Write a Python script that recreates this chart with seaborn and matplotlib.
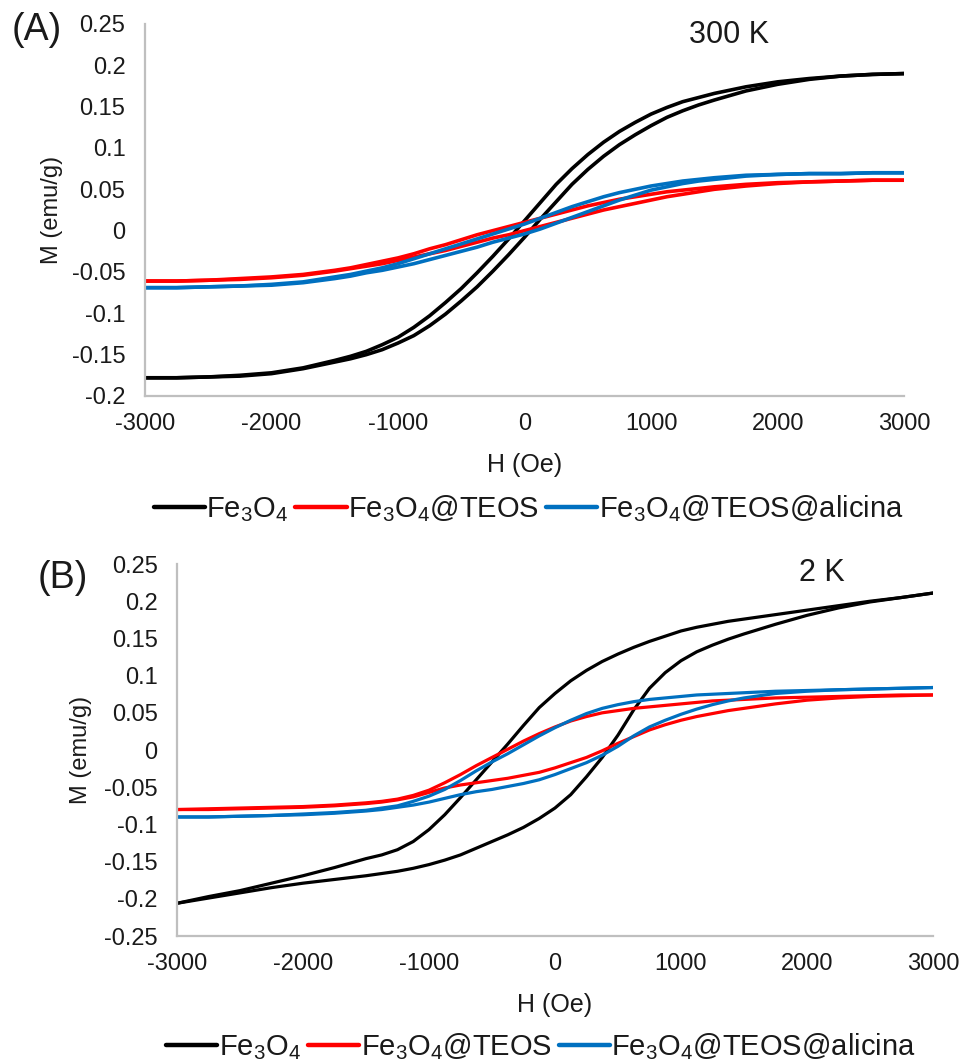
import numpy as np
import pandas as pd
import matplotlib
matplotlib.use("Agg")
import matplotlib.pyplot as plt
from matplotlib.lines import Line2D
import seaborn as sns

# ---------------- data ----------------
H_field = [-3000, -2750, -2500, -2250, -2000, -1750, -1500,
           -1375, -1250, -1125, -1000, -875, -750, -625, -500, -375, -250, -125, 0,
           125, 250, 375, 500, 625, 750, 875, 1000, 1125, 1250, 1375, 1500,
           1750, 2000, 2250, 2500, 2750, 3000]

sample_names = ["Fe$_3$O$_4$", "Fe$_3$O$_4$@TEOS", "Fe$_3$O$_4$@TEOS@alicina"]
sample_colors = ["#000000", "#FF0000", "#0070C0"]

# 300 K  (desc = branch coming from +H, asc = branch coming from -H), values at H_field
fe_300_desc = [-0.178, -0.178, -0.177, -0.175, -0.172, -0.166, -0.157,
               -0.152, -0.146, -0.138, -0.129, -0.117, -0.103, -0.087, -0.070, -0.051, -0.031, -0.010, 0.012,
               0.034, 0.056, 0.075, 0.092, 0.107, 0.120, 0.131, 0.141, 0.149, 0.156, 0.161, 0.166,
               0.174, 0.180, 0.184, 0.187, 0.189, 0.190]
fe_300_asc = [-0.178, -0.178, -0.177, -0.176, -0.173, -0.167, -0.159,
              -0.155, -0.150, -0.144, -0.136, -0.127, -0.115, -0.101, -0.085, -0.068, -0.049, -0.029, -0.008,
              0.014, 0.035, 0.056, 0.074, 0.090, 0.104, 0.116, 0.127, 0.137, 0.145, 0.152, 0.158,
              0.169, 0.177, 0.183, 0.187, 0.189, 0.190]
teos_300_desc = [-0.061, -0.061, -0.060, -0.058, -0.056, -0.053, -0.048,
                 -0.045, -0.041, -0.037, -0.033, -0.028, -0.022, -0.017, -0.011, -0.005, 0.000, 0.005, 0.010,
                 0.015, 0.020, 0.025, 0.030, 0.034, 0.038, 0.041, 0.044, 0.047, 0.049, 0.051, 0.053,
                 0.056, 0.058, 0.059, 0.060, 0.061, 0.061]
teos_300_asc = [-0.061, -0.061, -0.060, -0.059, -0.057, -0.054, -0.049,
                -0.046, -0.043, -0.040, -0.036, -0.032, -0.028, -0.024, -0.019, -0.014, -0.009, -0.005, 0.000,
                0.005, 0.010, 0.015, 0.020, 0.025, 0.029, 0.033, 0.037, 0.041, 0.044, 0.047, 0.050,
                0.054, 0.057, 0.059, 0.060, 0.061, 0.061]
alic_300_desc = [-0.069, -0.069, -0.068, -0.067, -0.065, -0.062, -0.056,
                 -0.053, -0.049, -0.045, -0.040, -0.034, -0.028, -0.022, -0.016, -0.010, -0.004, 0.002, 0.008,
                 0.015, 0.022, 0.029, 0.035, 0.041, 0.046, 0.050, 0.054, 0.057, 0.060, 0.062, 0.064,
                 0.067, 0.068, 0.069, 0.069, 0.070, 0.070]
alic_300_asc = [-0.069, -0.069, -0.068, -0.067, -0.066, -0.063, -0.058,
                -0.055, -0.051, -0.048, -0.044, -0.040, -0.035, -0.030, -0.025, -0.020, -0.014, -0.009, -0.004,
                0.002, 0.009, 0.016, 0.023, 0.030, 0.037, 0.043, 0.049, 0.053, 0.057, 0.060, 0.062,
                0.066, 0.068, 0.069, 0.069, 0.070, 0.070]

# 2 K
fe_2_desc = [-0.206, -0.197, -0.189, -0.179, -0.169, -0.158, -0.146,
             -0.141, -0.134, -0.123, -0.107, -0.087, -0.064, -0.040, -0.016, 0.008, 0.033, 0.057, 0.076,
             0.093, 0.107, 0.119, 0.129, 0.138, 0.146, 0.153, 0.160, 0.165, 0.169, 0.173, 0.176,
             0.182, 0.188, 0.194, 0.200, 0.205, 0.211]
fe_2_asc = [-0.206, -0.199, -0.192, -0.185, -0.179, -0.174, -0.169,
            -0.166, -0.163, -0.159, -0.154, -0.148, -0.141, -0.132, -0.123, -0.114, -0.104, -0.092, -0.078,
            -0.060, -0.036, -0.010, 0.020, 0.054, 0.083, 0.104, 0.120, 0.132, 0.141, 0.149, 0.156,
            0.169, 0.181, 0.191, 0.199, 0.205, 0.211]
teos_2_desc = [-0.080, -0.079, -0.078, -0.077, -0.076, -0.074, -0.071,
               -0.069, -0.066, -0.061, -0.054, -0.044, -0.033, -0.021, -0.010, 0.001, 0.012, 0.022, 0.031,
               0.039, 0.045, 0.050, 0.053, 0.056, 0.058, 0.060, 0.062, 0.064, 0.066, 0.067, 0.068,
               0.070, 0.071, 0.072, 0.073, 0.074, 0.074]
teos_2_asc = [-0.080, -0.080, -0.079, -0.078, -0.077, -0.075, -0.072,
              -0.070, -0.067, -0.063, -0.057, -0.051, -0.047, -0.044, -0.041, -0.038, -0.034, -0.030, -0.024,
              -0.017, -0.010, -0.001, 0.009, 0.018, 0.027, 0.034, 0.040, 0.045, 0.049, 0.053, 0.056,
              0.062, 0.067, 0.070, 0.072, 0.073, 0.074]
alic_2_desc = [-0.090, -0.090, -0.089, -0.088, -0.086, -0.084, -0.081,
               -0.078, -0.075, -0.069, -0.062, -0.053, -0.041, -0.028, -0.016, -0.005, 0.007, 0.019, 0.030,
               0.040, 0.049, 0.056, 0.061, 0.065, 0.068, 0.070, 0.072, 0.074, 0.075, 0.076, 0.077,
               0.079, 0.080, 0.081, 0.082, 0.083, 0.084]
alic_2_asc = [-0.090, -0.090, -0.089, -0.088, -0.087, -0.085, -0.082,
              -0.080, -0.077, -0.074, -0.070, -0.065, -0.060, -0.056, -0.053, -0.049, -0.045, -0.040, -0.033,
              -0.025, -0.017, -0.007, 0.005, 0.019, 0.031, 0.040, 0.048, 0.055, 0.061, 0.066, 0.070,
              0.076, 0.079, 0.081, 0.082, 0.083, 0.084]

x_ticks = [-3000, -2000, -1000, 0, 1000, 2000, 3000]
x_tick_labels = ["-3000", "-2000", "-1000", "0", "1000", "2000", "3000"]
yA_ticks = [0.25, 0.2, 0.15, 0.1, 0.05, 0, -0.05, -0.1, -0.15, -0.2]
yA_tick_labels = ["0.25", "0.2", "0.15", "0.1", "0.05", "0", "-0.05", "-0.1", "-0.15", "-0.2"]
yB_ticks = [0.25, 0.2, 0.15, 0.1, 0.05, 0, -0.05, -0.1, -0.15, -0.2, -0.25]
yB_tick_labels = ["0.25", "0.2", "0.15", "0.1", "0.05", "0", "-0.05", "-0.1", "-0.15", "-0.2", "-0.25"]

# ---------------- build table ----------------
series = {
    "300 K": [(fe_300_desc, fe_300_asc), (teos_300_desc, teos_300_asc), (alic_300_desc, alic_300_asc)],
    "2 K": [(fe_2_desc, fe_2_asc), (teos_2_desc, teos_2_asc), (alic_2_desc, alic_2_asc)],
}
rows = []
for temp, lst in series.items():
    for name, (desc, asc) in zip(sample_names, lst):
        for h, m in zip(H_field[::-1], desc[::-1]):
            rows.append(dict(T=temp, sample=name, branch="desc", H=h, M=m))
        for h, m in zip(H_field, asc):
            rows.append(dict(T=temp, sample=name, branch="asc", H=h, M=m))
df = pd.DataFrame(rows)

# ---------------- style ----------------
sns.set_theme(style="white")
plt.rcParams["font.family"] = ["Liberation Sans", "DejaVu Sans"]
plt.rcParams["mathtext.fontset"] = "custom"
plt.rcParams["mathtext.rm"] = "Liberation Sans"
plt.rcParams["mathtext.it"] = "Liberation Sans"
plt.rcParams["mathtext.default"] = "regular"

fig = plt.figure(figsize=(9.66, 10.61), dpi=100)
axA = fig.add_axes([0.150, 0.6268, 0.786, 0.3506])
axB = fig.add_axes([0.1832, 0.1178, 0.7826, 0.3506])

text_col = "#1a1a1a"
for ax, temp, lw, yt, ytl, ylim, ylx in [
    (axA, "300 K", 2.6, yA_ticks, yA_tick_labels, (-0.2, 0.25), -0.108),
    (axB, "2 K", 2.3, yB_ticks, yB_tick_labels, (-0.25, 0.25), -0.112),
]:
    sub = df[df["T"] == temp]
    sns.lineplot(data=sub, x="H", y="M", hue="sample", hue_order=sample_names,
                 palette=sample_colors, units="branch", estimator=None, sort=False,
                 linewidth=lw, legend=False, ax=ax)
    for ln in ax.get_lines():
        ln.set_solid_joinstyle("round")
        ln.set_solid_capstyle("round")
    ax.set_xlim(-3000, 3000)
    ax.set_ylim(*ylim)
    ax.set_xticks(x_ticks)
    ax.set_xticklabels(x_tick_labels)
    ax.set_yticks(yt)
    ax.set_yticklabels(ytl)
    ax.tick_params(axis="both", length=0, labelsize=17, colors=text_col)
    ax.tick_params(axis="y", pad=14)
    ax.tick_params(axis="x", pad=12)
    for s in ["top", "right"]:
        ax.spines[s].set_visible(False)
    for s in ["left", "bottom"]:
        ax.spines[s].set_color("#BFBFBF")
        ax.spines[s].set_linewidth(1.6)
    ax.set_xlabel("H (Oe)", fontsize=18, color=text_col)
    ax.set_ylabel("M (emu/g)", fontsize=17, color=text_col)
    ax.xaxis.set_label_coords(0.5, -0.153)
    ax.yaxis.set_label_coords(ylx, 0.5)
    ax.xaxis.label.set_va("top")

# panel letters and temperature labels
fig.text(0.0124, 0.9623, "(A)", fontsize=27, ha="left", va="baseline", color=text_col)
fig.text(0.0393, 0.4458, "(B)", fontsize=27, ha="left", va="baseline", color=text_col)
fig.text(0.7133, 0.9595, "300 K", fontsize=22, ha="left", va="baseline", color=text_col)
fig.text(0.8271, 0.4524, "2 K", fontsize=22, ha="left", va="baseline", color=text_col)

handles = [Line2D([0], [0], color=c, lw=3.2) for c in sample_colors]
for (cx, cy) in [(0.547, 0.521), (0.560, 0.0135)]:
    fig.legend(handles, sample_names, loc="center", bbox_to_anchor=(cx, cy), ncol=3,
               frameon=False, fontsize=21, handlelength=1.75, handletextpad=0.05,
               columnspacing=0.25, borderpad=0, labelcolor=text_col)

fig.savefig("out.png", dpi=100)
